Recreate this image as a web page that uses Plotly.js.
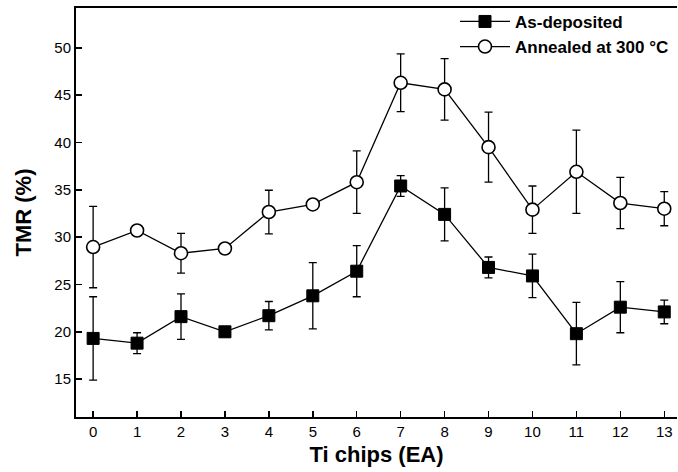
<!DOCTYPE html>
<html>
<head>
<meta charset="utf-8">
<script src="https://cdn.plot.ly/plotly-3.0.1.min.js"></script>
<style>html,body{margin:0;padding:0;background:#fff;}#chart{width:678px;height:472px;}</style>
</head>
<body>
<div id="chart"></div>
<script>
var tiChips = [0,1,2,3,4,5,6,7,8,9,10,11,12,13];
var asDeposited = [19.3,18.8,21.6,20.0,21.7,23.8,26.4,35.4,32.4,26.8,25.9,19.8,22.6,22.1];
var asDepositedErr = [4.4,1.1,2.4,0.5,1.5,3.5,2.7,1.1,2.8,1.1,2.3,3.3,2.7,1.25];
var annealed = [28.95,30.7,28.3,28.8,32.65,33.45,35.8,46.3,45.6,39.5,32.9,36.9,33.6,33.0];
var annealedErr = [4.3,0.3,2.1,0.3,2.3,0.3,3.3,3.05,3.25,3.7,2.5,4.4,2.7,1.8];
var xTicks = [0,1,2,3,4,5,6,7,8,9,10,11,12,13];
var yTicks = [15,20,25,30,35,40,45,50];

var FONT = 'Liberation Sans, Arial, Helvetica, sans-serif';

var traces = [
  {
    x: tiChips, y: asDeposited, name: 'As-deposited', type: 'scatter', mode: 'lines+markers',
    line: {color: '#000', width: 1.3},
    marker: {symbol: 'square', size: 12, color: '#000', line: {color: '#000', width: 1}},
    error_y: {type: 'data', array: asDepositedErr, visible: true, color: '#000', thickness: 1.3, width: 4}
  },
  {
    x: tiChips, y: annealed, name: 'Annealed at 300 °C', type: 'scatter', mode: 'lines+markers',
    line: {color: '#000', width: 1.3},
    marker: {symbol: 'circle', size: 13, color: '#fff', line: {color: '#000', width: 1.6}},
    error_y: {type: 'data', array: annealedErr, visible: true, color: '#000', thickness: 1.3, width: 4}
  }
];

var layout = {
  width: 678, height: 472,
  margin: {l: 76, r: 1, t: 8, b: 55},
  paper_bgcolor: '#fff', plot_bgcolor: '#fff',
  showlegend: true,
  legend: {
    x: 0.995, xanchor: 'right', y: 1.01, yanchor: 'top',
    bgcolor: 'rgba(0,0,0,0)', borderwidth: 0,
    font: {family: FONT, size: 17, color: '#000', weight: 'bold'},
    itemwidth: 50, tracegroupgap: 0
  },
  xaxis: {
    range: [-0.39, 13.29],
    tickvals: xTicks, ticktext: xTicks.map(String),
    ticks: 'inside', ticklen: 6, tickwidth: 1.5, tickcolor: '#000',
    showline: true, linecolor: '#000', linewidth: 2, mirror: true,
    showgrid: false, zeroline: false,
    tickfont: {family: FONT, size: 15, color: '#000'},
    title: {text: '<b>Ti chips (EA)</b>', font: {family: FONT, size: 22, color: '#000'}, standoff: 8}
  },
  yaxis: {
    range: [11.0, 54.2],
    tickvals: yTicks, ticktext: yTicks.map(String),
    ticks: 'inside', ticklen: 6, tickwidth: 1.5, tickcolor: '#000',
    showline: true, linecolor: '#000', linewidth: 2, mirror: false,
    showgrid: false, zeroline: false,
    tickfont: {family: FONT, size: 15, color: '#000'},
    title: {text: '<b>TMR (%)</b>', font: {family: FONT, size: 22, color: '#000'}, standoff: 17}
  }
};

Plotly.newPlot('chart', traces, layout, {displayModeBar: false, staticPlot: true});
</script>
</body>
</html>
